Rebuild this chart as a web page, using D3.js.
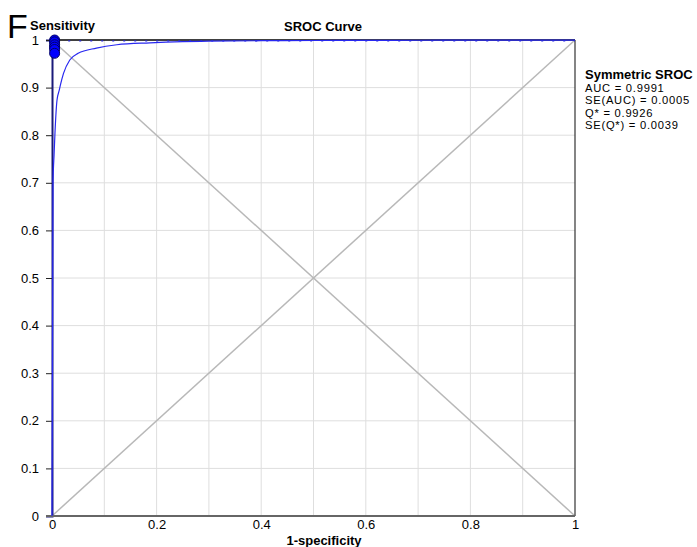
<!DOCTYPE html>
<html><head><meta charset="utf-8">
<script src="https://cdn.jsdelivr.net/npm/d3@7"></script>
<style>body{margin:0;background:#fff}svg{display:block;font-family:"Liberation Sans",Arial,sans-serif}</style>
</head><body><svg id="c" width="697" height="547"></svg>
<script>
const yTicks = [0,0.1,0.2,0.3,0.4,0.5,0.6,0.7,0.8,0.9,1];
const yTickLabels = ["0","0.1","0.2","0.3","0.4","0.5","0.6","0.7","0.8","0.9","1"];
const xTicks = [0,0.2,0.4,0.6,0.8,1];
const xTickLabels = ["0","0.2","0.4","0.6","0.8","1"];
const gridVals = [0.1,0.2,0.3,0.4,0.5,0.6,0.7,0.8,0.9];
const curveFPR = [0,0.0008,0.0015,0.002,0.004,0.0057,0.0096,0.014,0.016,0.022,0.034,0.05,0.085,0.124,0.187,0.25,0.3,0.4,0.5,0.6,0.7,0.8,0.9,1];
const curveSens = [0,0.3,0.55,0.702,0.76,0.805,0.874,0.895,0.905,0.93,0.958,0.972,0.983,0.99,0.994,0.9965,0.9975,0.9985,0.999,0.9993,0.9995,0.9996,0.9997,0.9998];
const ciFPR = [0.01,0.2,0.4,0.6,0.8,1];
const ciSens = [0.998,0.998,0.998,0.998,0.998,0.998];
const studyFPR = [0.005,0.005,0.005,0.005,0.005,0.005];
const studySens = [1,0.996,0.99,0.985,0.98,0.972];
const legendLines = ["AUC = 0.9991","SE(AUC) = 0.0005","Q* = 0.9926","SE(Q*) = 0.0039"];

const svg = d3.select("#c");
const x = d3.scaleLinear().domain([0,1]).range([52,575]);
const y = d3.scaleLinear().domain([0,1]).range([516,40]);
const FS = 13;

// grid
svg.append("g").selectAll("line.v").data(gridVals).join("line")
  .attr("x1",d=>x(d)).attr("x2",d=>x(d)).attr("y1",y(0)).attr("y2",y(1))
  .attr("stroke","#dedede").attr("stroke-width",1);
svg.append("g").selectAll("line.h").data(gridVals).join("line")
  .attr("y1",d=>y(d)).attr("y2",d=>y(d)).attr("x1",x(0)).attr("x2",x(1))
  .attr("stroke","#dedede").attr("stroke-width",1);

// diagonals
svg.append("line").attr("x1",x(0)).attr("y1",y(0)).attr("x2",x(1)).attr("y2",y(1))
  .attr("stroke","#b8b8b8").attr("stroke-width",1.5);
svg.append("line").attr("x1",x(0)).attr("y1",y(1)).attr("x2",x(1)).attr("y2",y(0))
  .attr("stroke","#b8b8b8").attr("stroke-width",1.5);

// frame
svg.append("line").attr("x1",x(0)).attr("x2",x(1)).attr("y1",y(1)).attr("y2",y(1)).attr("stroke","#000").attr("stroke-width",1.5);
svg.append("line").attr("x1",x(1)).attr("x2",x(1)).attr("y1",y(1)).attr("y2",y(0)).attr("stroke","#333").attr("stroke-width",1.2);

// y axis
const yAxis = d3.axisLeft(y).tickValues(yTicks).tickFormat((d,i)=>yTickLabels[i]).tickSize(6).tickPadding(7);
const gy = svg.append("g").attr("transform",`translate(${x(0)},0)`).call(yAxis);
gy.select(".domain").attr("stroke","#1a1a7a").attr("stroke-width",2);
gy.selectAll(".tick line").attr("stroke","#222");
gy.selectAll(".tick text").attr("font-size",FS).attr("fill","#000").attr("font-family","Liberation Sans, Arial, sans-serif");

// x axis
const xAxis = d3.axisBottom(x).tickValues(xTicks).tickFormat((d,i)=>xTickLabels[i]).tickSize(0).tickPadding(4);
const gx = svg.append("g").attr("transform",`translate(0,${y(0)})`).call(xAxis);
gx.select(".domain").attr("stroke","#666").attr("stroke-width",2).attr("d",`M${x(0)-6},0H${x(1)}`);
gx.selectAll(".tick text").attr("font-size",FS).attr("fill","#000").attr("font-family","Liberation Sans, Arial, sans-serif");

// CI dashed
const line = d3.line().x(d=>x(d[0])).y(d=>y(d[1]));
svg.append("path").datum(ciFPR.map((f,i)=>[f,ciSens[i]]))
  .attr("d",line).attr("fill","none").attr("stroke","#2a2ad8").attr("stroke-width",1.3).attr("stroke-dasharray","2,9");

// curve
svg.append("path").datum(curveFPR.map((f,i)=>[f,curveSens[i]]))
  .attr("d",line.curve(d3.curveMonotoneX)).attr("fill","none").attr("stroke","#2828f0").attr("stroke-width",1.2);

// studies
svg.append("g").selectAll("circle").data(studyFPR.map((f,i)=>[f,studySens[i]])).join("circle")
  .attr("cx",d=>x(d[0])).attr("cy",d=>y(d[1])).attr("r",5)
  .attr("fill","#0000ff").attr("stroke","#000066").attr("stroke-width",1);

// texts
svg.append("text").attr("x",7).attr("y",38).attr("font-size",34).attr("fill","#000").text("F");
svg.append("text").attr("x",30).attr("y",29.5).attr("font-size",FS).attr("font-weight","bold").text("Sensitivity");
svg.append("text").attr("x",323).attr("y",31).attr("font-size",FS).attr("font-weight","bold").attr("text-anchor","middle").text("SROC Curve");
svg.append("text").attr("x",324).attr("y",545).attr("font-size",FS).attr("font-weight","bold").attr("text-anchor","middle").text("1-specificity");
svg.append("text").attr("x",585).attr("y",78.5).attr("font-size",FS).attr("font-weight","bold").text("Symmetric SROC");
svg.append("g").selectAll("text").data(legendLines).join("text")
  .attr("x",585).attr("y",(d,i)=>91.6+i*12.5).attr("font-size",11.2).attr("letter-spacing",0.75).text(d=>d);
</script></body></html>
